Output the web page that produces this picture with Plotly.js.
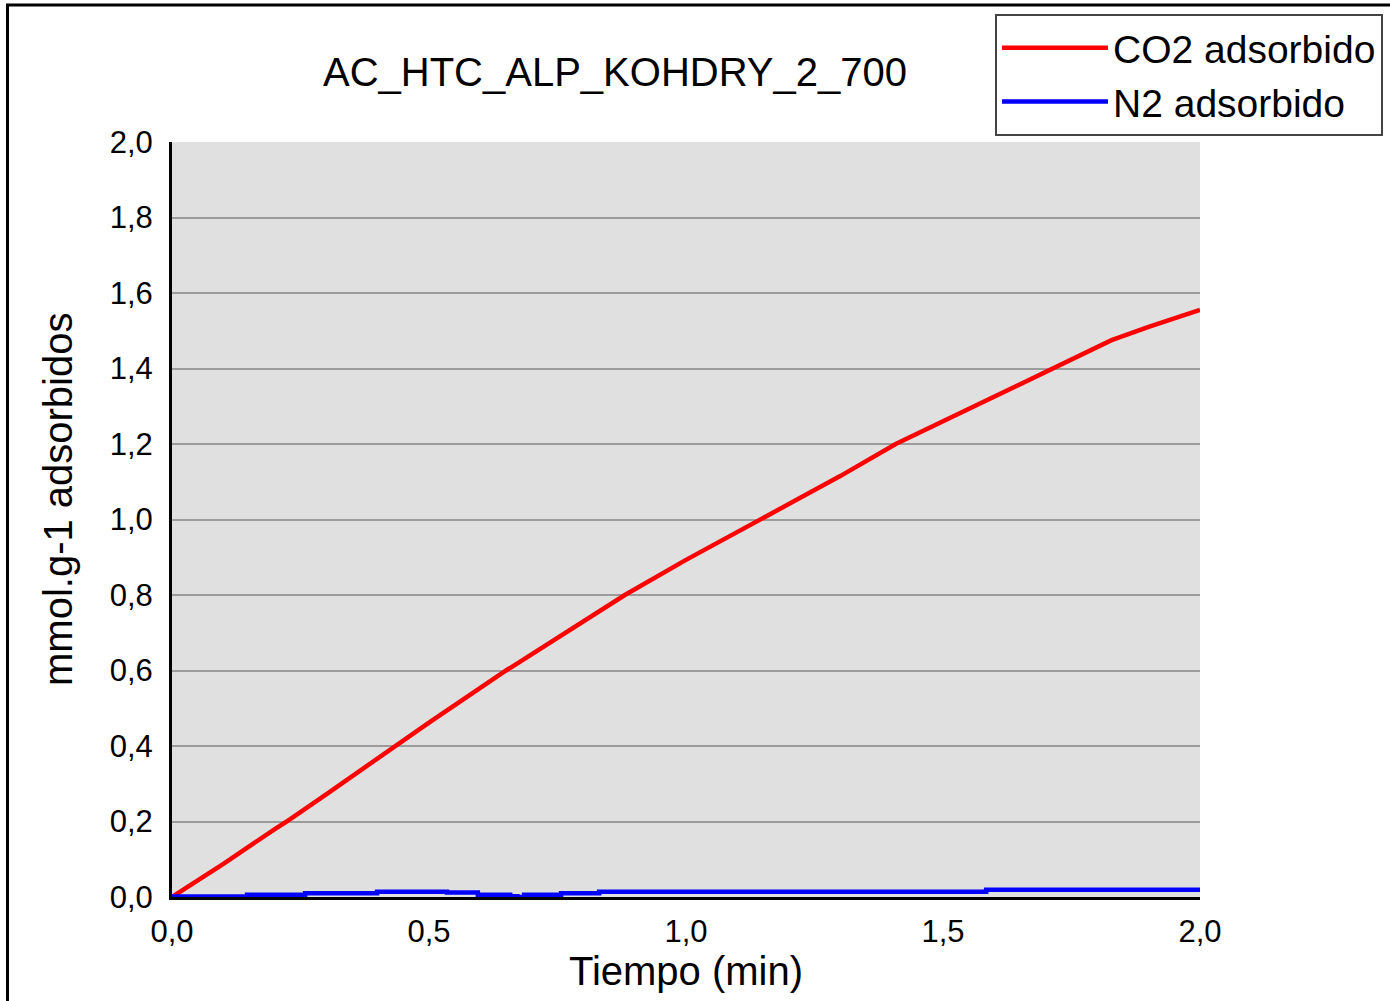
<!DOCTYPE html>
<html>
<head>
<meta charset="utf-8">
<script src="https://cdn.plot.ly/plotly-3.0.1.min.js"></script>
<style>html,body{margin:0;padding:0;background:#fff;}#chart{width:1390px;height:1001px;}</style>
</head>
<body>
<div id="chart"></div>
<script>
// CO2 adsorbed (mmol/g) vs time (min)
const co2Time = [0, 0.1, 0.2, 0.223, 0.3, 0.434, 0.5, 0.65, 0.75, 0.881, 1.0, 1.144, 1.3, 1.408, 1.55, 1.714, 1.828, 1.9, 2.0];
const co2Vals = [0, 0.088, 0.18, 0.2, 0.272, 0.4, 0.462, 0.6, 0.688, 0.8, 0.893, 1.0, 1.115, 1.2, 1.294, 1.4, 1.475, 1.51, 1.555];
// N2 adsorbed (stepped)
const n2Time = [0, 0.146, 0.259, 0.399, 0.535, 0.595, 0.658, 0.672, 0.685, 0.757, 0.831, 1.584, 2.0];
const n2Vals = [0.001, 0.006, 0.010, 0.014, 0.012, 0.006, 0.002, 0.0, 0.006, 0.010, 0.014, 0.019, 0.019];
const yTicks = [0, 0.2, 0.4, 0.6, 0.8, 1.0, 1.2, 1.4, 1.6, 1.8, 2.0];
const xTicks = [0, 0.5, 1.0, 1.5, 2.0];
const seriesNames = ['CO2 adsorbido', 'N2 adsorbido'];

const FONT = '"Liberation Sans", Arial, sans-serif';

const traces = [
  {x: co2Time, y: co2Vals, name: seriesNames[0], mode: 'lines', line: {color: '#ff0000', width: 4.5}},
  {x: n2Time, y: n2Vals, name: seriesNames[1], mode: 'lines', line: {color: '#0000ff', width: 4.5, shape: 'hv'}}
];

const layout = {
  width: 1390, height: 1001,
  margin: {l: 172, r: 190, t: 142, b: 104, autoexpand: false},
  paper_bgcolor: '#ffffff',
  plot_bgcolor: '#e0e0e0',
  separators: ',.',
  font: {family: FONT, color: '#000000', size: 31},
  title: {text: 'AC_HTC_ALP_KOHDRY_2_700', font: {family: FONT, size: 40, color: '#000'},
          x: 615/1390, xanchor: 'center', xref: 'container', y: 1 - 72/1001, yanchor: 'middle', yref: 'container'},
  xaxis: {
    range: [0, 2], tickvals: xTicks, tickformat: '.1f',
    showgrid: false, zeroline: false,
    showline: true, linecolor: '#000', linewidth: 3,
    ticks: '', ticklabelstandoff: 5,
    tickfont: {family: FONT, size: 31, color: '#000'},
    title: {text: 'Tiempo (min)', font: {family: FONT, size: 40, color: '#000'}, standoff: 0},
    layer: 'below traces', fixedrange: true
  },
  yaxis: {
    range: [0, 2], tickvals: yTicks, tickformat: '.1f',
    showgrid: true, gridcolor: '#9c9c9c', gridwidth: 2,
    zeroline: false,
    showline: true, linecolor: '#000', linewidth: 3,
    ticks: '', ticklabelstandoff: 10,
    tickfont: {family: FONT, size: 31, color: '#000'},
    layer: 'below traces', fixedrange: true
  },
  legend: {
    xref: 'container', yref: 'container',
    x: 995/1390, y: 1 - 14/1001, xanchor: 'left', yanchor: 'top',
    bgcolor: '#ffffff', bordercolor: '#444', borderwidth: 2,
    font: {family: FONT, size: 39, color: '#000'},
    itemwidth: 106, tracegroupgap: 0
  },
  showlegend: true,
  annotations: [
    {text: 'mmol.g-1 adsorbidos', textangle: -90, xref: 'paper', yref: 'paper',
     x: (58 - 172)/1028, y: (897 - 499)/755, xanchor: 'center', yanchor: 'middle',
     showarrow: false, font: {family: FONT, size: 40, color: '#000'}}
  ],
  shapes: [
    {type: 'rect', xref: 'paper', yref: 'paper', x0: (7.5 - 172)/1028, x1: 1.3, y0: -0.3, y1: (897 - 5)/755,
     line: {color: '#000', width: 3}, fillcolor: 'rgba(0,0,0,0)', layer: 'below'}
  ]
};

Plotly.newPlot('chart', traces, layout, {displayModeBar: false, staticPlot: true});
</script>
</body>
</html>
